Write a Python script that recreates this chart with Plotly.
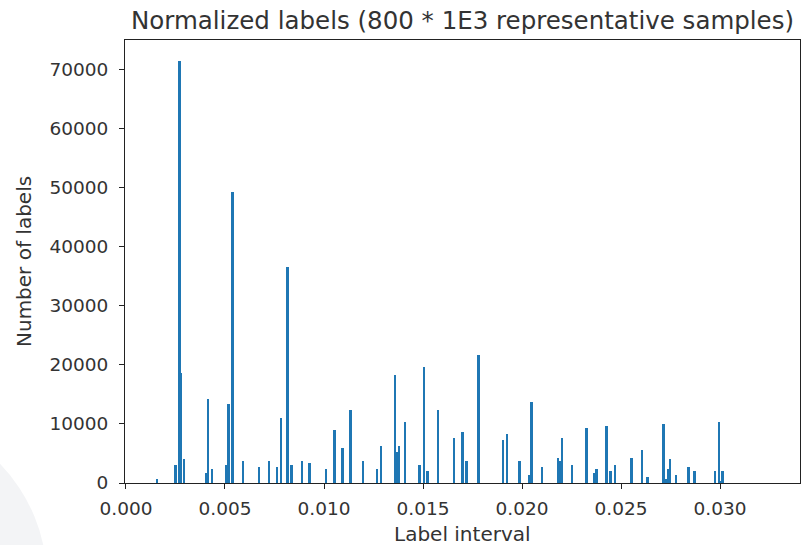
import plotly.graph_objects as go

# Bin centres (label interval) and counts
label_interval = [
    0.00158, 0.00251, 0.00271, 0.00279, 0.00293, 0.00406, 0.00416, 0.00436,
    0.00509, 0.00519, 0.00539, 0.00591, 0.00673, 0.00724, 0.00764, 0.00784,
    0.00816, 0.00838, 0.00889, 0.00929, 0.01012, 0.01054, 0.01094, 0.01135,
    0.01197, 0.01268, 0.01288, 0.01360, 0.01370, 0.01380, 0.01411, 0.01483,
    0.01507, 0.01525, 0.01577, 0.01658, 0.01700, 0.01720, 0.01781, 0.01904,
    0.01926, 0.01988, 0.02039, 0.02049, 0.02101, 0.02183, 0.02193, 0.02203,
    0.02254, 0.02327, 0.02367, 0.02377, 0.02429, 0.02449, 0.02470, 0.02554,
    0.02606, 0.02636, 0.02717, 0.02727, 0.02739, 0.02749, 0.02779, 0.02842,
    0.02872, 0.02975, 0.02995, 0.03005, 0.03015,
]
num_labels = [
    680, 3110, 71400, 18700, 4130, 1760, 14170, 2440,
    3110, 13440, 49270, 3730, 2780, 3730, 2780, 11070,
    36570, 3110, 3790, 3450, 2440, 8980, 5880, 12430,
    3790, 2440, 6210, 18240, 5200, 6210, 10330, 3110,
    19640, 2100, 12430, 7620, 8640, 3790, 21740, 7280,
    8300, 3790, 1420, 13780, 2780, 4180, 3790, 7620,
    3110, 9310, 1760, 2440, 9650, 2100, 3110, 4150,
    5540, 1020, 10060, 680, 2440, 4130, 1350, 2780,
    2100, 2100, 10330, 340, 2100,
]
bin_width = 0.0001

x_ticks = [0.000, 0.005, 0.010, 0.015, 0.020, 0.025, 0.030]
y_ticks = [0, 10000, 20000, 30000, 40000, 50000, 60000, 70000]

title_text = "Normalized labels (800 * 1E3 representative samples)"
x_title = "Label interval"
y_title = "Number of labels"

FONT = "DejaVu Sans"
TXT = "#333333"
TICK_SIZE = 18.5
LABEL_SIZE = 20
TITLE_SIZE = 24.5

fig = go.Figure()
fig.add_trace(go.Bar(
    x=label_interval, y=num_labels, width=bin_width,
    marker=dict(color="#1f77b4", line=dict(width=0)),
))

fig.update_layout(
    width=801, height=545,
    margin=dict(l=125, r=1, t=40, b=62),
    paper_bgcolor="white", plot_bgcolor="white",
    showlegend=False, bargap=0,
    font=dict(family=FONT, size=TICK_SIZE, color=TXT),
    title=dict(text=title_text, x=462.5 / 801, xanchor="center",
               y=1 - 20 / 545, yanchor="middle", yref="container",
               font=dict(family=FONT, size=TITLE_SIZE, color=TXT)),
)

axis_common = dict(
    showgrid=False, zeroline=False, showline=True, linecolor="#222",
    linewidth=1, mirror=True, ticks="outside", ticklen=5, tickwidth=1,
    tickcolor="#222", tickfont=dict(family=FONT, size=TICK_SIZE, color=TXT),
)
fig.update_xaxes(range=[-0.00005, 0.03404], tickvals=x_ticks,
                 tickformat=".3f", ticklabelstandoff=4, **axis_common)
fig.update_yaxes(range=[0, 74970], tickvals=y_ticks, tickformat="d",
                 ticklabelstandoff=7, **axis_common)

fig.add_annotation(text=x_title, xref="paper", yref="paper", x=0.5, y=0,
                   xanchor="center", yanchor="middle", yshift=-51,
                   showarrow=False,
                   font=dict(family=FONT, size=LABEL_SIZE, color=TXT))
fig.add_annotation(text=y_title, xref="paper", yref="paper", x=0, y=0.5,
                   xanchor="center", yanchor="middle", xshift=-101.5,
                   textangle=-90, showarrow=False,
                   font=dict(family=FONT, size=LABEL_SIZE, color=TXT))

# faint background arc in bottom-left corner
fig.add_shape(type="circle", xref="paper", yref="paper",
              xsizemode="pixel", ysizemode="pixel", xanchor=0, yanchor=0,
              x0=-412, x1=-78, y0=-264, y1=70,
              fillcolor="#f3f4f6", line=dict(width=0), layer="below")

fig.write_html("out.html")
